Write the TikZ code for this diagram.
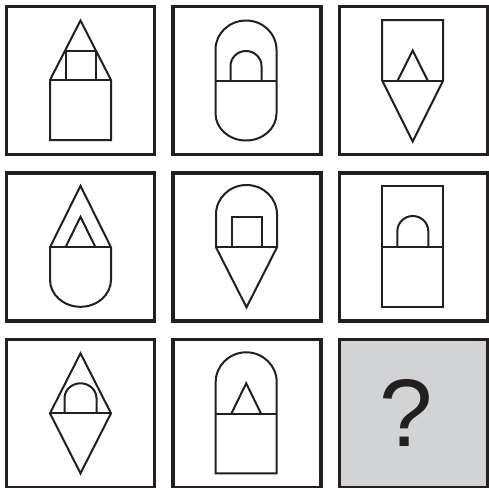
\documentclass[tikz,border=0pt]{standalone}
\usepackage{fontspec}
\setmainfont{Liberation Sans}
\definecolor{ink}{HTML}{231F20}
\definecolor{qgray}{HTML}{D1D3D4}
\begin{document}
\begin{tikzpicture}[x=0.75pt,y=0.75pt,
  cellbox/.style={draw=ink,line width=2.5pt,minimum size=111pt,inner sep=0pt,outer sep=0pt},
  fig/.style={draw=ink,line width=1.5pt,line join=miter}]
\useasboundingbox (0,0) rectangle (489,-487);
% frames
\node[cellbox] (c11) at (80.7,-80.7) {};
\node[cellbox] (c12) at (247,-80.7) {};
\node[cellbox] (c13) at (413.3,-80.7) {};
\node[cellbox] (c21) at (80.7,-247) {};
\node[cellbox] (c22) at (247,-247) {};
\node[cellbox] (c23) at (413.3,-247) {};
\node[cellbox] (c31) at (80.7,-413.3) {};
\node[cellbox] (c32) at (247,-413.3) {};
\node[cellbox,fill=qgray] (c33) at (413.3,-413.3) {};
% cell 1: triangle / square / small square
\begin{scope}[shift={(80.5,-80)}]
  \draw[fig] (-30.5,0) -- (0,59.5) -- (30.5,0) -- (30.5,-60) -- (-30.5,-60) -- cycle;
  \draw[fig] (-30.5,0) -- (30.5,0);
  \draw[fig] (-15,0) -- (-15,29.5) -- (15,29.5) -- (15,0);
\end{scope}
% cell 2: arch / round / small arch
\begin{scope}[shift={(246,-80.5)}]
  \draw[fig] (-30.5,0) -- (-30.5,31) arc[start angle=180,end angle=0,x radius=30.5,y radius=29]
     -- (30.5,-33) arc[start angle=0,end angle=-180,x radius=30.5,y radius=27] -- cycle;
  \draw[fig] (-30.5,0) -- (30.5,0);
  \draw[fig] (-15.5,0) -- (-15.5,14.5) arc[start angle=180,end angle=0,x radius=15.5,y radius=15] -- (15.5,0);
\end{scope}
% cell 3: square / triangle down / small triangle
\begin{scope}[shift={(412.7,-80.5)}]
  \draw[fig] (-30.5,0) -- (-30.5,60.5) -- (30.5,60.5) -- (30.5,0) -- (0,-61) -- cycle;
  \draw[fig] (-30.5,0) -- (30.5,0);
  \draw[fig] (-15,0) -- (0,30) -- (15,0);
\end{scope}
% cell 4: triangle / round / small triangle
\begin{scope}[shift={(80.5,-247.3)}]
  \draw[fig] (-30.5,0) -- (0,61.5) -- (30.5,0) -- (30.5,-32.5) arc[start angle=0,end angle=-180,x radius=30.5,y radius=27] -- cycle;
  \draw[fig] (-30.5,0) -- (30.5,0);
  \draw[fig] (-15,0) -- (0,30.5) -- (15,0);
\end{scope}
% cell 5: arch / triangle down / small square
\begin{scope}[shift={(246.5,-247.3)}]
  \draw[fig] (-30.5,0) -- (-30.5,33) arc[start angle=180,end angle=0,x radius=30.5,y radius=29.3] -- (30.5,0) -- (0,-60) -- cycle;
  \draw[fig] (-30.5,0) -- (30.5,0);
  \draw[fig] (-15,0) -- (-15,30.5) -- (15,30.5) -- (15,0);
\end{scope}
% cell 6: square / square / small arch
\begin{scope}[shift={(412.8,-247.3)}]
  \draw[fig] (-30.5,0) -- (-30.5,61.3) -- (30.5,61.3) -- (30.5,-60) -- (-30.5,-60) -- cycle;
  \draw[fig] (-30.5,0) -- (30.5,0);
  \draw[fig] (-15.5,0) -- (-15.5,16) arc[start angle=180,end angle=0,x radius=15.5,y radius=15.3] -- (15.5,0);
\end{scope}
% cell 7: triangle / triangle down / small arch
\begin{scope}[shift={(80.5,-413.3)}]
  \draw[fig] (-30.5,0) -- (0,60) -- (30.5,0) -- (0,-60) -- cycle;
  \draw[fig] (-30.5,0) -- (30.5,0);
  \draw[fig] (-16,0) -- (-16,15) arc[start angle=180,end angle=0,x radius=16,y radius=15] -- (16,0);
\end{scope}
% cell 8: arch / square / small triangle
\begin{scope}[shift={(246.2,-414)}]
  \draw[fig] (-30.5,0) -- (-30.5,32) arc[start angle=180,end angle=0,x radius=30.5,y radius=29.7] -- (30.5,-59.3) -- (-30.5,-59.3) -- cycle;
  \draw[fig] (-30.5,0) -- (30.5,0);
  \draw[fig] (-15,0) -- (0,30.7) -- (15,0);
\end{scope}
% question mark
\node[inner sep=0pt,text=ink,font=\fontsize{72}{72}\selectfont] (q) at (406,-413.3) {?};
\end{tikzpicture}
\end{document}
